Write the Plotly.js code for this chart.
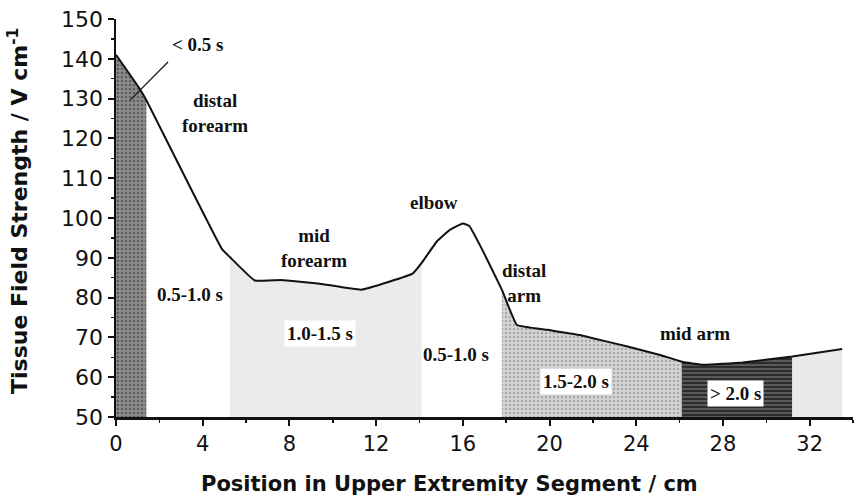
<!DOCTYPE html>
<html>
<head>
<meta charset="utf-8">
<script src="https://cdn.plot.ly/plotly-3.0.1.min.js"></script>
<style>html,body{margin:0;padding:0;background:#fff;}#chart{width:856px;height:497px;}</style>
</head>
<body>
<div id="chart"></div>
<script>
// Curve
const posCm = [0, 1.1, 1.4, 4.9, 5.25, 6.4, 7.6, 9.4, 11.3, 12.6, 13.7, 14.1, 14.8, 15.4, 16.0, 16.3, 16.9, 17.8, 18.5, 19.9, 21.4, 22.0, 23.6, 25.1, 26.1, 27.1, 28.9, 31.2, 33.5];
const fieldVcm = [141, 132.4, 129.6, 92.1, 90.2, 84.3, 84.4, 83.5, 82.0, 84.0, 86.1, 88.7, 94.1, 97.0, 98.6, 98.0, 92.0, 82.0, 73.1, 71.9, 70.6, 69.8, 67.7, 65.6, 63.9, 63.1, 63.7, 65.2, 67.1];

// Time bands (shaded areas under the curve)
const bandStart = [0, 5.25, 17.8, 26.1, 31.2];
const bandEnd   = [1.4, 14.1, 26.1, 31.2, 33.5];
const bandName  = ["< 0.5 s", "1.0-1.5 s", "1.5-2.0 s", "> 2.0 s", "1.0-1.5 s"];

// Text labels
const labelText = ["< 0.5 s", "distal<br>forearm", "0.5-1.0 s", "mid<br>forearm", "1.0-1.5 s", "elbow", "0.5-1.0 s", "distal<br>arm", "1.5-2.0 s", "mid arm", "> 2.0 s"];
const labelX = [3.78, 4.56, 3.4, 9.13, 9.4, 14.66, 15.7, 18.8, 21.2, 26.7, 28.6];
const labelY = [143.5, 126.4, 80.7, 92.5, 71.1, 104, 65.6, 83.7, 59, 70.9, 56];
const labelBoxed = [false, false, false, false, true, false, false, false, true, false, true];

const xTicks = [0, 4, 8, 12, 16, 20, 24, 28, 32];
const yTicks = [50, 60, 70, 80, 90, 100, 110, 120, 130, 140, 150];

const xTitle = 'Position in Upper Extremity Segment / cm';
const yTitle = 'Tissue Field Strength / V cm<sup>-1</sup>';

const bandStyles = [
  {fillcolor: '#858585', fillpattern: {shape: '.', bgcolor: '#8c8c8c', fgcolor: '#5e5e5e', size: 4, solidity: 0.35}},
  {fillcolor: '#ebebeb'},
  {fillcolor: '#cfcfcf', fillpattern: {shape: '.', bgcolor: '#d4d4d4', fgcolor: '#a9a9a9', size: 4, solidity: 0.3}},
  {fillcolor: '#333333', fillpattern: {shape: '-', bgcolor: '#2c2c2c', fgcolor: '#6e6e6e', size: 4, solidity: 0.35}},
  {fillcolor: '#e9e9e9'}
];

const traces = [];
for (let i = 0; i < bandStart.length; i++) {
  const xs = [], ys = [];
  for (let j = 0; j < posCm.length; j++) {
    if (posCm[j] >= bandStart[i] && posCm[j] <= bandEnd[i]) { xs.push(posCm[j]); ys.push(fieldVcm[j]); }
  }
  traces.push(Object.assign({
    type: 'scatter', mode: 'lines', x: xs, y: ys, fill: 'tozeroy',
    line: {width: 0, color: 'rgba(0,0,0,0)'}, name: bandName[i], hoverinfo: 'skip', showlegend: false
  }, bandStyles[i]));
}
traces.push({type: 'scatter', mode: 'lines', x: posCm, y: fieldVcm, line: {color: '#111', width: 2, shape: 'spline', smoothing: 0.3}, showlegend: false});

const annotations = labelText.map((t, i) => ({
  x: labelX[i], y: labelY[i], xref: 'x', yref: 'y', text: t, showarrow: false,
  font: {family: 'Liberation Serif, Times New Roman, serif', size: 19, color: '#111', weight: 'bold'},
  bgcolor: labelBoxed[i] ? '#ffffff' : 'rgba(0,0,0,0)', borderpad: 2
}));
annotations.push({
  x: 0.453, y: -0.168, xref: 'paper', yref: 'paper', text: xTitle, showarrow: false,
  font: {family: 'DejaVu Sans, sans-serif', size: 21, color: '#111', weight: 'bold'}, xanchor: 'center', yanchor: 'middle'
});
annotations.push({
  x: -0.133, y: 0.5176, xref: 'paper', yref: 'paper', text: yTitle, showarrow: false, textangle: -90,
  font: {family: 'DejaVu Sans, sans-serif', size: 22, color: '#111', weight: 'bold'}, xanchor: 'center', yanchor: 'middle'
});

const layout = {
  width: 856, height: 497,
  margin: {l: 116, r: 3, t: 19, b: 80},
  paper_bgcolor: '#fff', plot_bgcolor: '#fff',
  showlegend: false,
  xaxis: {
    range: [0, 34], tickvals: xTicks, ticktext: xTicks.map(String),
    showgrid: false, zeroline: false, showline: true, linecolor: '#111', linewidth: 2.5,
    ticks: 'outside', ticklen: 6, tickwidth: 2, tickcolor: '#111',
    minor: {dtick: 2, tick0: 0, ticks: 'outside', ticklen: 3, tickwidth: 1.5, tickcolor: '#111'},
    tickfont: {family: 'DejaVu Sans, sans-serif', size: 21, color: '#111'}
  },
  yaxis: {
    range: [50, 150], tickvals: yTicks, ticktext: yTicks.map(String),
    showgrid: false, zeroline: false, showline: true, linecolor: '#111', linewidth: 2.5,
    ticks: 'outside', ticklen: 6, tickwidth: 2, tickcolor: '#111',
    minor: {dtick: 5, tick0: 50, ticks: 'outside', ticklen: 3, tickwidth: 1.5, tickcolor: '#111'},
    tickfont: {family: 'DejaVu Sans, sans-serif', size: 22, color: '#111'}
  },
  shapes: [
    {type: 'line', xref: 'x', yref: 'y', x0: 0.65, y0: 129.6, x1: 2.4, y1: 139.2, line: {color: '#111', width: 1.2}}
  ],
  annotations: annotations
};

Plotly.newPlot('chart', traces, layout, {displayModeBar: false, staticPlot: true});
</script>
</body>
</html>
